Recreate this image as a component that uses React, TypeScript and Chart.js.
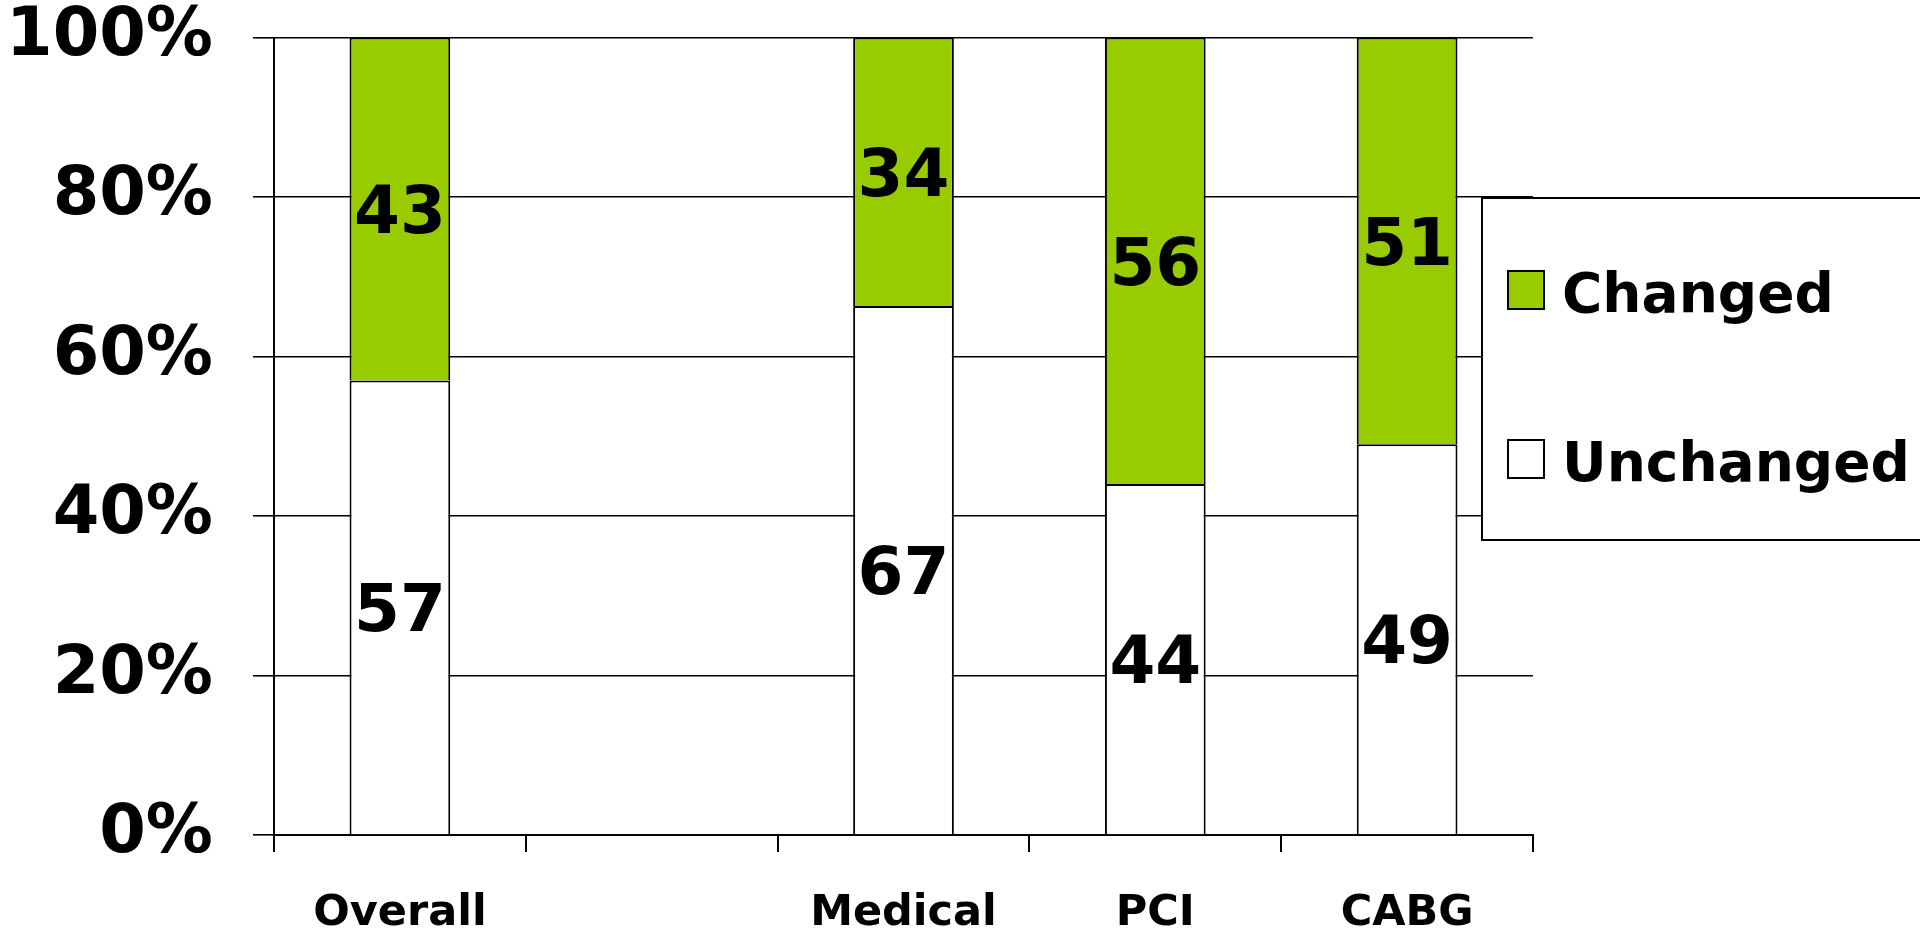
import React, { useEffect, useRef } from "react";
import { Chart, registerables } from "chart.js";

Chart.register(...registerables);

// Categories along the x axis (the second slot is intentionally left empty)
const categories: string[] = ["Overall", "", "Medical", "PCI", "CABG"];

// Percent of patients per group
const unchanged: (number | null)[] = [57, null, 67, 44, 49];
const changed: (number | null)[] = [43, null, 34, 56, 51];

// Y axis tick values (percent)
const yTicks: number[] = [0, 20, 40, 60, 80, 100];

const GREEN = "#99CC00";
const FONT = "'DejaVu Sans', Verdana, sans-serif";

// 100% stacked: each segment is drawn as its share of the bar total
function shareOf(v: number | null, other: number | null): number | null {
  if (v == null || other == null) return null;
  return (v / (v + other)) * 100;
}

const valueLabels = {
  id: "valueLabels",
  afterDatasetsDraw(chart: any) {
    const ctx = chart.ctx;
    const size = 66;
    chart.data.datasets.forEach((ds: any, i: number) => {
      const meta = chart.getDatasetMeta(i);
      meta.data.forEach((bar: any, j: number) => {
        const v = ds.rawValues[j];
        if (v == null) return;
        const { x, y, base } = bar.getProps(["x", "y", "base"], true);
        const cy = (y + base) / 2;
        ctx.save();
        ctx.font = `bold ${size}px ${FONT}`;
        ctx.fillStyle = "#000";
        ctx.textAlign = "center";
        ctx.textBaseline = "alphabetic";
        ctx.fillText(String(v), x, cy + (size * 0.729) / 2);
        ctx.restore();
      });
    });
  },
};

const boxLegend = {
  id: "boxLegend",
  afterDraw(chart: any) {
    const ctx = chart.ctx;
    const left = 1482;
    const top = 198;
    const width = 470;
    const height = 342;
    ctx.save();
    ctx.fillStyle = "#fff";
    ctx.fillRect(left, top, width, height);
    ctx.strokeStyle = "#000";
    ctx.lineWidth = 2;
    ctx.strokeRect(left, top, width, height);

    const order = [1, 0];
    const baselines = [312, 481];
    const size = 55;
    order.forEach((di, k) => {
      const ds = chart.data.datasets[di];
      const base = baselines[k];
      const sw = 36;
      const sy = base - 41;
      ctx.fillStyle = ds.backgroundColor;
      ctx.fillRect(left + 26, sy, sw, 38);
      ctx.strokeStyle = "#000";
      ctx.lineWidth = 2;
      ctx.strokeRect(left + 26, sy, sw, 38);
      ctx.fillStyle = "#000";
      ctx.font = `bold ${size}px ${FONT}`;
      ctx.textAlign = "left";
      ctx.textBaseline = "alphabetic";
      ctx.fillText(ds.label, left + 80, base);
    });
    ctx.restore();
  },
};

export default function App() {
  const canvasRef = useRef<HTMLCanvasElement | null>(null);

  useEffect(() => {
    document.body.style.margin = "0";
    const canvas = canvasRef.current;
    if (!canvas) return;

    const chart = new Chart(canvas, {
      type: "bar",
      data: {
        labels: categories,
        datasets: [
          {
            label: "Unchanged",
            data: unchanged.map((v, i) => shareOf(v, changed[i])),
            rawValues: unchanged,
            backgroundColor: "#ffffff",
            borderColor: "#000000",
            borderWidth: 2,
            borderSkipped: "start",
          } as any,
          {
            label: "Changed",
            data: changed.map((v, i) => shareOf(v, unchanged[i])),
            rawValues: changed,
            backgroundColor: GREEN,
            borderColor: "#000000",
            borderWidth: 2,
            borderSkipped: "start",
          } as any,
        ],
      },
      options: {
        responsive: false,
        animation: false,
        devicePixelRatio: 1,
        layout: { padding: { left: 0, top: 37.5, right: 387, bottom: 0 } },
        datasets: {
          bar: { categoryPercentage: 1, barPercentage: 0.4 },
        },
        plugins: {
          legend: { display: false },
          tooltip: { enabled: false },
          title: { display: false },
        },
        scales: {
          x: {
            stacked: true,
            offset: true,
            grid: {
              display: true,
              offset: true,
              drawOnChartArea: false,
              drawTicks: true,
              tickLength: 17,
              color: "#000",
              lineWidth: 2,
            },
            border: { display: true, color: "#000", width: 2 },
            ticks: {
              color: "#000",
              padding: 36,
              maxRotation: 0,
              autoSkip: false,
              font: { family: FONT, size: 43, weight: "bold", lineHeight: 1.2 },
            },
            afterFit(scale: any) {
              scale.height = 96;
              scale.paddingLeft = 0;
              scale.paddingRight = 0;
            },
          },
          y: {
            stacked: true,
            min: 0,
            max: 100,
            afterBuildTicks(scale: any) {
              scale.ticks = yTicks.map((v) => ({ value: v }));
            },
            grid: {
              color: "#000",
              lineWidth: 1.6,
              drawTicks: true,
              tickLength: 21,
            },
            border: { display: true, color: "#000", width: 2 },
            ticks: {
              color: "#000",
              padding: 40,
              callback: (v: any) => `${v}%`,
              font: { family: FONT, size: 67, weight: "bold", lineHeight: 1 },
            },
            afterFit(scale: any) {
              scale.width = 274;
              scale.paddingTop = 0;
              scale.paddingBottom = 0;
            },
          },
        },
      } as any,
      plugins: [valueLabels, boxLegend],
    });

    return () => chart.destroy();
  }, []);

  return (
    <div style={{ position: "absolute", left: 0, top: 0, width: 1920, height: 931, background: "#fff" }}>
      <canvas ref={canvasRef} width={1920} height={931} />
    </div>
  );
}
